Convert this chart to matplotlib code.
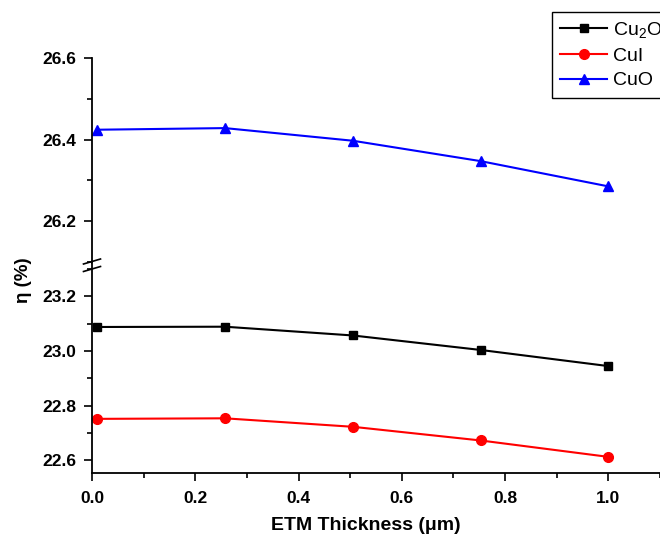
import matplotlib
matplotlib.use("Agg")
import matplotlib.pyplot as plt
from matplotlib.lines import Line2D
from matplotlib.ticker import MultipleLocator

plt.rcParams['font.family'] = ['Liberation Sans', 'DejaVu Sans']
plt.rcParams['mathtext.default'] = 'regular'

thickness = [0.01, 0.2575, 0.505, 0.7525, 1.0]
eff_cu2o = [23.088, 23.089, 23.057, 23.004, 22.945]
eff_cui = [22.752, 22.754, 22.723, 22.673, 22.613]
eff_cuo = [26.424, 26.428, 26.397, 26.347, 26.285]

W, H = 660, 537
fig = plt.figure(figsize=(W / 100, H / 100), dpi=100)

# px positions of the two panels
left, right = 92, 660
top, brk, bottom = 58, 263, 473
ax_top = fig.add_axes([left / W, 1 - brk / H, (right - left) / W, (brk - top) / H])
ax_bot = fig.add_axes([left / W, 1 - bottom / H, (right - left) / W, (bottom - brk) / H])

for ax in (ax_top, ax_bot):
    l1, = ax.plot(thickness, eff_cu2o, color='black', marker='s', ms=6, lw=1.5)
    l2, = ax.plot(thickness, eff_cui, color='red', marker='o', ms=7, lw=1.5)
    l3, = ax.plot(thickness, eff_cuo, color='blue', marker='^', ms=7.5, lw=1.5)
    ax.set_xlim(0, 1.1)
    ax.spines['top'].set_visible(False)
    ax.spines['right'].set_visible(False)
    ax.tick_params(which='both', direction='out', width=1.2, labelsize=12.5)
    ax.tick_params(which='major', length=6)
    ax.tick_params(which='minor', length=3.5)
    ax.tick_params(axis='y', which='major', pad=5)
    ax.yaxis.set_major_locator(MultipleLocator(0.2))
    ax.yaxis.set_minor_locator(MultipleLocator(0.1))
    for lab in ax.get_yticklabels() + ax.get_xticklabels():
        lab.set_fontweight('bold')
    for s in ax.spines.values():
        s.set_linewidth(1.3)

ax_top.set_ylim(26.097, 26.6)
ax_bot.set_ylim(22.554, 23.322)
ax_top.spines['bottom'].set_visible(False)
ax_top.tick_params(axis='x', which='both', bottom=False, labelbottom=False)

ax_bot.xaxis.set_major_locator(MultipleLocator(0.2))
ax_bot.xaxis.set_minor_locator(MultipleLocator(0.1))
ax_bot.set_xticks([0.0, 0.2, 0.4, 0.6, 0.8, 1.0])
ax_bot.set_xticklabels(['0.0', '0.2', '0.4', '0.6', '0.8', '1.0'], fontweight='bold')
ax_bot.tick_params(axis='x', which='major', pad=7)

fig.text(366 / W, 1 - 526 / H, 'ETM Thickness (μm)', fontsize=14,
         fontweight='bold', ha='center', va='center')
fig.text(23 / W, 1 - 280 / H, 'η (%)', rotation=90, fontsize=13.5,
         fontweight='bold', ha='center', va='center')

# break marks on the left spine
for yc in (261.5, 269):
    fig.add_artist(Line2D([(left - 8.5) / W, (left + 8.5) / W],
                          [1 - (yc + 2.5) / H, 1 - (yc - 2.5) / H],
                          color='black', lw=1.2))

leg = fig.legend([l1, l2, l3], ['Cu$_2$O', 'CuI', 'CuO'], loc='upper left',
                 bbox_to_anchor=(552 / W, 1 - 12 / H), borderaxespad=0,
                 fontsize=14, handlelength=2.4, fancybox=False,
                 edgecolor='black', framealpha=1, borderpad=0.42,
                 labelspacing=0.36, handletextpad=0.3)
leg.get_frame().set_linewidth(1.0)

fig.savefig('out.png', dpi=100)
